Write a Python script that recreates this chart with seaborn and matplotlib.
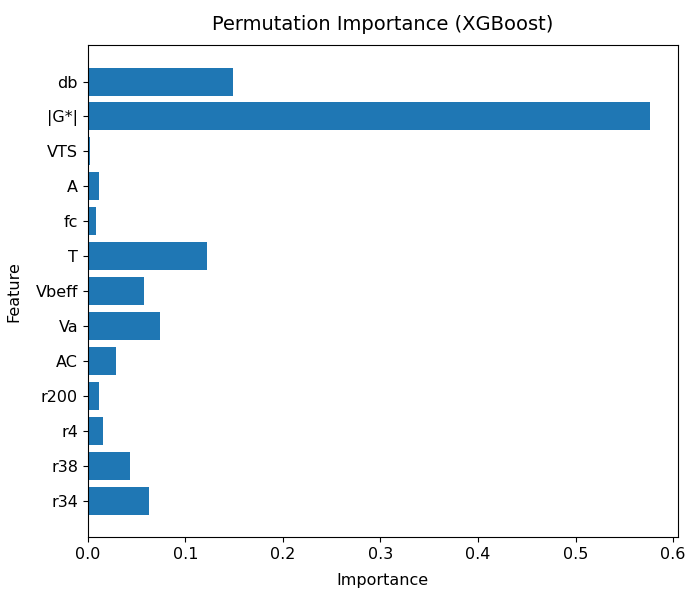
import matplotlib
matplotlib.use("Agg")
import matplotlib.pyplot as plt
import seaborn as sns
import pandas as pd

features = ["db", "|G*|", "VTS", "A", "fc", "T", "Vbeff", "Va", "AC", "r200", "r4", "r38", "r34"]
importance = [0.149, 0.576, 0.002, 0.0113, 0.0089, 0.1222, 0.0575, 0.0735, 0.0284, 0.0113, 0.0151, 0.0431, 0.0626]

df = pd.DataFrame({"Feature": features, "Importance": importance})

plt.rcParams['font.family'] = ['DejaVu Sans']
fig = plt.figure(figsize=(6.86, 5.95), dpi=100)
ax = fig.add_axes([0.128, 0.0975, 0.86, 0.8265])
sns.barplot(data=df, x="Importance", y="Feature", color="#1f77b4", saturation=1,
            width=0.8, orient="h", ax=ax)
n = len(features)
ax.set_ylim(n - 1 + 1.04, -1.04)
ax.set_xlim(0, 0.576 * 1.05)
ax.set_xticks([0.0, 0.1, 0.2, 0.3, 0.4, 0.5, 0.6])
ax.tick_params(labelsize=11.5)
ax.set_xlabel("Importance", fontsize=11.5, labelpad=8)
ax.set_ylabel("Feature", fontsize=11.5, labelpad=10)
ax.set_title("Permutation Importance (XGBoost)", fontsize=14, pad=11)
fig.savefig("out.png", dpi=100)
